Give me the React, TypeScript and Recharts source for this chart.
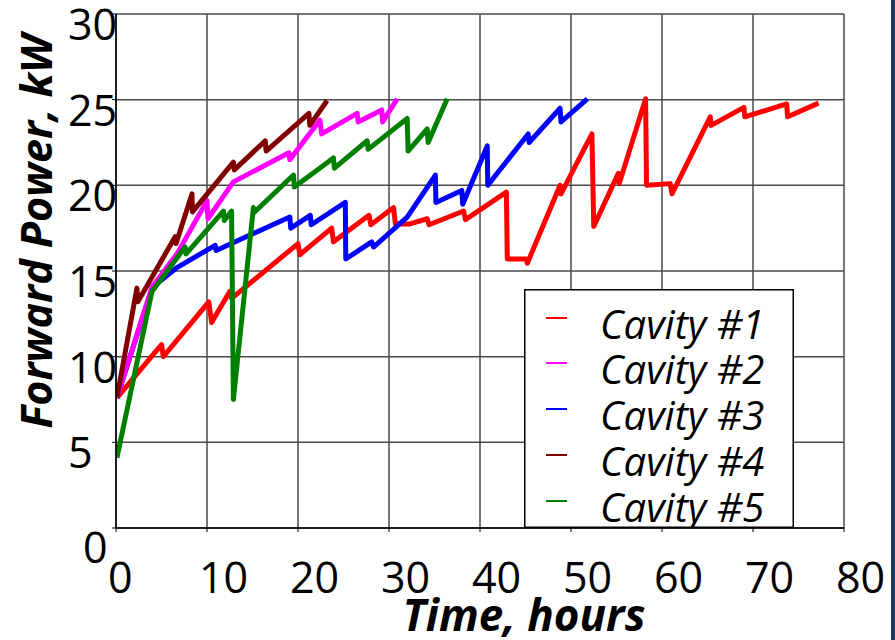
import { LineChart, Line, XAxis, YAxis, CartesianGrid, Legend } from 'recharts';

// Cavity #1
const hours1 = [0.1, 5.0, 5.2, 10.2, 10.5, 12.5, 12.7, 20.0, 20.2, 23.7, 23.9, 27.8, 28.0, 30.5, 30.7, 32.3, 34.2, 34.4, 38.2, 38.4, 42.9, 43.0, 45.1, 45.2, 48.8, 48.9, 52.3, 52.5, 55.2, 55.3, 58.2, 58.3, 60.9, 61.1, 65.3, 65.4, 69.0, 69.1, 73.7, 73.8, 77.2];
const power1 = [7.6, 10.7, 10.0, 13.2, 12.0, 13.8, 13.4, 16.6, 15.95, 17.5, 16.7, 18.25, 17.7, 18.7, 17.75, 17.75, 18.05, 17.7, 18.5, 18.0, 19.6, 15.7, 15.7, 15.45, 20.0, 19.5, 23.0, 17.6, 20.7, 20.1, 25.05, 20.0, 20.1, 19.5, 24.0, 23.5, 24.55, 24.0, 24.75, 24.0, 24.8];

// Cavity #2
const hours2 = [0.1, 3.95, 6.7, 10.0, 10.1, 12.9, 19.0, 19.1, 22.4, 22.6, 26.5, 26.6, 29.2, 29.3, 30.9];
const power2 = [7.6, 14.05, 16.0, 19.1, 18.05, 20.2, 21.9, 21.5, 23.8, 23.0, 24.2, 23.7, 24.4, 23.7, 25.05];

// Cavity #3
const hours3 = [0.1, 4.0, 6.7, 10.9, 11.0, 19.1, 19.2, 21.35, 21.45, 25.2, 25.25, 28.1, 28.3, 32.0, 35.1, 35.15, 38.0, 38.1, 40.8, 40.85, 45.3, 45.4, 48.8, 48.9, 51.8];
const power3 = [7.6, 14.05, 15.2, 16.5, 16.2, 18.15, 17.5, 18.25, 17.7, 19.0, 15.7, 16.7, 16.4, 18.15, 20.6, 19.0, 19.7, 18.9, 22.3, 20.0, 23.0, 22.5, 24.5, 23.7, 25.05];

// Cavity #4
const hours4 = [0.1, 2.3, 2.4, 6.5, 6.6, 8.35, 8.4, 12.9, 13.0, 16.4, 16.5, 21.2, 21.3, 23.2];
const power4 = [7.6, 14.0, 13.2, 17.0, 16.6, 19.5, 18.45, 21.35, 20.9, 22.6, 22.0, 24.2, 23.5, 24.95];

// Cavity #5
const hours5 = [0.1, 3.95, 7.6, 7.7, 11.8, 11.9, 12.7, 12.9, 15.1, 15.15, 19.5, 19.6, 23.9, 24.0, 27.6, 27.7, 32.0, 32.1, 34.2, 34.3, 36.4];
const power5 = [4.1, 13.8, 16.4, 16.0, 18.5, 17.95, 18.5, 7.5, 18.7, 18.4, 20.6, 19.9, 21.6, 21.0, 22.6, 22.1, 23.9, 22.0, 23.3, 22.5, 25.05];

const xTicks = [0, 10, 20, 30, 40, 50, 60, 70, 80];
const yTicks = [0, 5, 10, 15, 20, 25, 30];

const zip = (hours: number[], power: number[]) => hours.map((t, i) => ({ t, v: power[i] }));

// drawing order: later ones sit on top
const series = [
  { name: 'Cavity #1', color: '#ff0000', data: zip(hours1, power1) },
  { name: 'Cavity #3', color: '#0000ff', data: zip(hours3, power3) },
  { name: 'Cavity #2', color: '#ff00ff', data: zip(hours2, power2) },
  { name: 'Cavity #4', color: '#800000', data: zip(hours4, power4) },
  { name: 'Cavity #5', color: '#008000', data: zip(hours5, power5) },
];
const legendOrder = ['Cavity #1', 'Cavity #2', 'Cavity #3', 'Cavity #4', 'Cavity #5'];
const legendRows = [29, 74, 120, 166, 212];

const font = '"Open Sans", sans-serif';

const XTick = ({ x, y, payload }: any) => (
  <text x={x - 8} y={y + 59} textAnchor="start" fontSize={43} fontFamily={font} fill="#000">
    {payload.value}
  </text>
);

const YTick = ({ x, y, payload }: any) => {
  const zero = payload.value === 0;
  return (
    <text x={zero ? x - 27 : x - 42} y={zero ? y + 35 : y + 26} textAnchor="start" fontSize={43} fontFamily={font} fill="#000">
      {payload.value}
    </text>
  );
};

const renderLegend = () => (
  <svg width={270} height={239} style={{ display: 'block' }}>
    <rect x={0.75} y={0.75} width={268.5} height={237.5} fill="#fff" stroke="#000" strokeWidth={1.5} />
    {legendOrder.map((name, i) => {
      const s = series.find((d) => d.name === name)!;
      const cy = legendRows[i];
      return (
        <g key={name}>
          <line x1={22} x2={43} y1={cy} y2={cy} stroke={s.color} strokeWidth={2} />
          <text x={76} y={cy + 21} fontSize={40} fontStyle="italic" fontFamily={font} fill="#000">
            {name}
          </text>
        </g>
      );
    })}
  </svg>
);

export default function App() {
  return (
    <div style={{ position: 'absolute', left: 0, top: 0, width: 895, height: 640, background: '#fff', overflow: 'hidden' }}>
      <LineChart width={895} height={640} margin={{ top: 14, right: 51, bottom: 0, left: 0 }}>
        <CartesianGrid stroke="#4a4a4a" strokeWidth={1.5} />
        <XAxis
          type="number"
          dataKey="t"
          domain={[0, 80]}
          ticks={xTicks}
          height={112}
          tickSize={4}
          tick={<XTick />}
          axisLine={{ stroke: '#000', strokeWidth: 1.5 }}
          tickLine={{ stroke: '#000' }}
          allowDataOverflow
        />
        <YAxis
          type="number"
          domain={[0, 30]}
          ticks={yTicks}
          width={116}
          tickSize={4}
          tick={<YTick />}
          axisLine={{ stroke: '#000', strokeWidth: 1.5 }}
          tickLine={{ stroke: '#000' }}
          allowDataOverflow
        />
        {series.map((s) => (
          <Line
            key={s.name}
            data={s.data}
            dataKey="v"
            name={s.name}
            type="linear"
            stroke={s.color}
            strokeWidth={5}
            strokeLinejoin="round"
            dot={false}
            activeDot={false}
            isAnimationActive={false}
          />
        ))}
        <Legend
          layout="vertical"
          align="center"
          verticalAlign="middle"
          content={renderLegend}
          wrapperStyle={{ position: 'absolute', left: 524, top: 289, width: 270, height: 239 }}
        />
      </LineChart>
      <div
        style={{
          position: 'absolute', left: 0, top: 0, width: 72, height: 462,
          display: 'flex', alignItems: 'center', justifyContent: 'center', pointerEvents: 'none',
        }}
      >
        <div
          style={{
            transform: 'rotate(-90deg)', whiteSpace: 'nowrap', fontFamily: font,
            fontWeight: 700, fontStyle: 'italic', fontSize: 43, lineHeight: 1,
          }}
        >
          Forward Power, kW
        </div>
      </div>
      <div
        style={{
          position: 'absolute', left: 384, top: 592, width: 280, textAlign: 'center', whiteSpace: 'nowrap',
          fontFamily: font, fontWeight: 700, fontStyle: 'italic', fontSize: 44, lineHeight: 1,
        }}
      >
        Time, hours
      </div>
      <div style={{ position: 'absolute', left: 891, top: 0, width: 4, height: 640, background: '#1c3a5e' }} />
    </div>
  );
}
